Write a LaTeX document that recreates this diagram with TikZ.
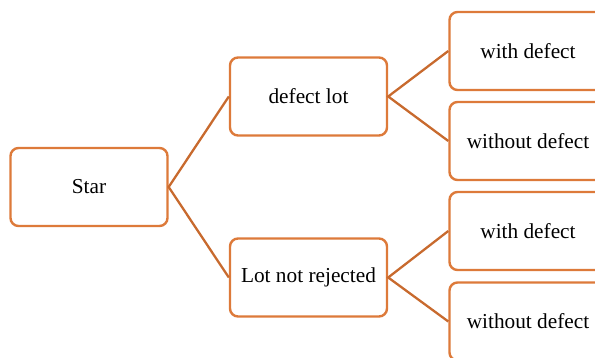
\documentclass[tikz,border=0pt]{standalone}
\usepackage{fontspec}
\setmainfont{Liberation Serif}
\definecolor{boxline}{HTML}{DD7A3A}
\definecolor{linkline}{HTML}{C86A2E}
\begin{document}
\begin{tikzpicture}[x=1pt,y=-1pt,
  stagebox/.style={draw=boxline, line width=2.4pt, rounded corners=8pt, fill=white,
    minimum width=157pt, minimum height=78pt, inner sep=0pt,
    font=\fontsize{21.3}{25}\selectfont},
  link/.style={draw=linkline, line width=2.3pt}]
  \useasboundingbox (0,0) rectangle (595,358);
  \clip (0,0) rectangle (595,358);
  \node[stagebox] (star) at (89,187) {\raisebox{-1pt}{Star}};
  \node[stagebox] (lot) at (308.5,96.5) {\raisebox{-1pt}{defect lot}};
  \node[stagebox] (notrej) at (308.5,277.5) {\raisebox{-1pt}{Lot not rejected}};
  \node[stagebox] (w1) at (528,51) {\raisebox{-1pt}{with defect}};
  \node[stagebox] (wo1) at (528,141) {\raisebox{-1pt}{without defect}};
  \node[stagebox] (w2) at (528,231) {\raisebox{-1pt}{with defect}};
  \node[stagebox] (wo2) at (528,321.5) {\raisebox{-1pt}{without defect}};
  \draw[link] (lot.west) -- (star.east) -- (notrej.west);
  \draw[link] (w1.west) -- (lot.east) -- (wo1.west);
  \draw[link] (w2.west) -- (notrej.east) -- (wo2.west);
\end{tikzpicture}
\end{document}
